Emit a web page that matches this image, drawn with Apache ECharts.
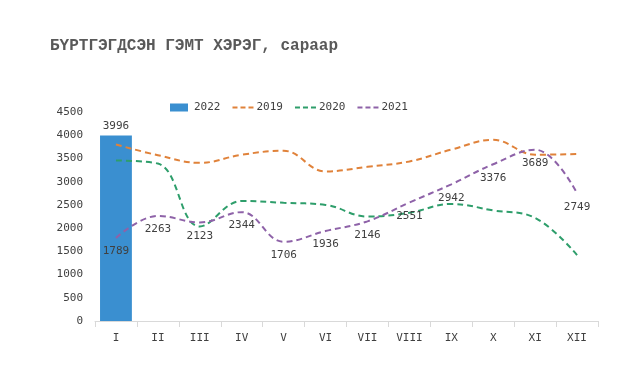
<!DOCTYPE html>
<html><head><meta charset="utf-8">
<script src="https://cdn.jsdelivr.net/npm/echarts@6/dist/echarts.min.js"></script>
<style>html,body{margin:0;padding:0;background:#fff}#c{width:637px;height:384px}</style>
</head><body><div id="c"></div>
<script>
const categories = ['I','II','III','IV','V','VI','VII','VIII','IX','X','XI','XII'];
const s2022 = [3996, null, null, null, null, null, null, null, null, null, null, null];
const s2019 = [3800, 3570, 3405, 3580, 3665, 3220, 3320, 3435, 3690, 3900, 3580, 3595];
const s2020 = [3455, 3390, 2035, 2585, 2545, 2500, 2250, 2330, 2520, 2380, 2220, 1420];
const s2021 = [1789, 2263, 2123, 2344, 1706, 1936, 2146, 2551, 2942, 3376, 3689, 2749];
const yTicks = [0, 500, 1000, 1500, 2000, 2500, 3000, 3500, 4000, 4500];

const fontMono = '"DejaVu Sans Mono", "Liberation Mono", monospace';
const dashIcon = 'path://M0,3h5v2h-5zM8,3h5v2h-5zM16,3h5v2h-5zM0,0l0,0zM21,8l0,0z';
const rectIcon = 'path://M0,0h18v8h-18zM21,0l0,0z';
const chart = echarts.init(document.getElementById('c'), null, {renderer: 'canvas'});
const lineStyle = (color) => ({color: color, width: 2, type: [6, 4]});
chart.setOption({
  animation: false,
  backgroundColor: '#fff',
  title: {
    text: 'БҮРТГЭГДСЭН ГЭМТ ХЭРЭГ, сараар',
    left: 45, top: 33,
    textStyle: {fontFamily: '"Liberation Mono", "DejaVu Sans Mono", monospace', fontWeight: 'bold', fontSize: 16, color: '#595959'}
  },
  legend: {
    top: 97, left: 165,
    itemGap: 12, itemWidth: 21, itemHeight: 8,
    textStyle: {fontFamily: fontMono, fontSize: 11, color: '#404040', padding: [0, 0, 0, -2]},
    data: [
      {name: '2022', icon: rectIcon},
      {name: '2019', icon: dashIcon}, {name: '2020', icon: dashIcon}, {name: '2021', icon: dashIcon}
    ]
  },
  grid: {left: 95, right: 39, top: 112, bottom: 63},
  xAxis: {
    type: 'category', data: categories, boundaryGap: true,
    axisLine: {lineStyle: {color: '#d9d9d9'}},
    axisTick: {show: true, length: 6, lineStyle: {color: '#d9d9d9'}},
    axisLabel: {fontFamily: fontMono, fontSize: 11, color: '#404040', margin: 12}
  },
  yAxis: {
    type: 'value', min: yTicks[0], max: yTicks[yTicks.length - 1], interval: 500,
    splitLine: {show: false}, axisLine: {show: false}, axisTick: {show: false},
    axisLabel: {fontFamily: fontMono, fontSize: 11, color: '#404040', margin: 12,
      formatter: (v) => String(v)}
  },
  series: [
    {name: '2022', type: 'bar', data: s2022, barWidth: '76%',
     itemStyle: {color: '#3A8FD0'},
     label: {show: true, position: 'top', fontFamily: fontMono, fontSize: 11, color: '#404040', distance: 4}},
    {name: '2019', type: 'line', data: s2019, smooth: 0.4, symbol: 'none',
     lineStyle: lineStyle('#E0823A'), itemStyle: {color: '#E0823A'}},
    {name: '2020', type: 'line', data: s2020, smooth: 0.4, symbol: 'none',
     lineStyle: lineStyle('#2E9E6B'), itemStyle: {color: '#2E9E6B'}},
    {name: '2021', type: 'line', data: s2021, smooth: 0.4, symbol: 'circle', symbolSize: 0, showSymbol: true,
     lineStyle: lineStyle('#8E62A8'), itemStyle: {color: '#8E62A8'},
     label: {show: true, position: 'bottom', distance: 8, fontFamily: fontMono, fontSize: 11, color: '#404040'}}
  ]
});
</script>
</body></html>
